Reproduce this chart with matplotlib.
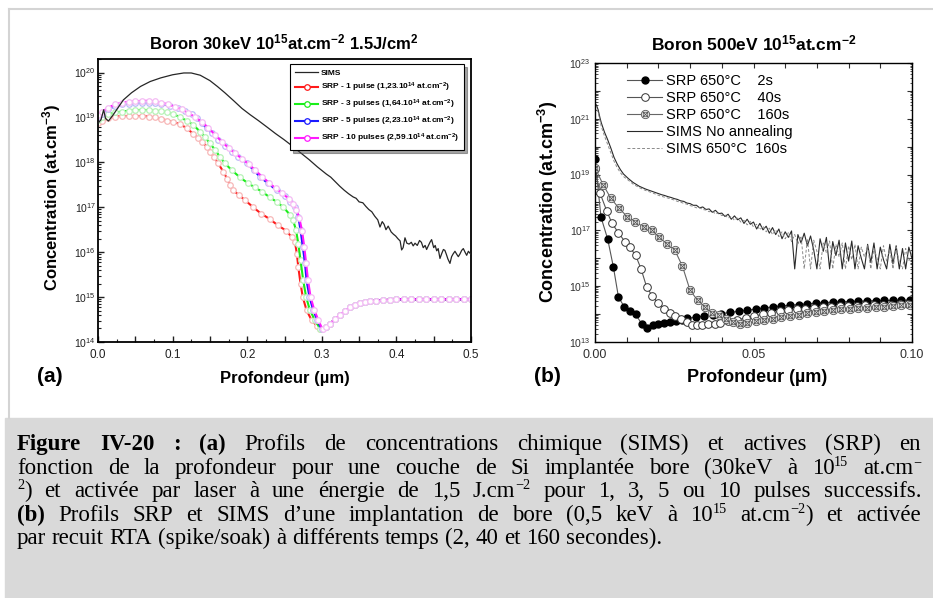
import re

import matplotlib.pyplot as plt
import numpy as np
from matplotlib.lines import Line2D
from matplotlib.patches import Rectangle
from matplotlib.path import Path
from matplotlib.ticker import (FuncFormatter, LogLocator, MultipleLocator,
                               NullFormatter)

plt.rcParams['font.family'] = ['Liberation Sans', 'DejaVu Sans']
plt.rcParams['mathtext.fontset'] = 'custom'
plt.rcParams['mathtext.rm'] = 'Liberation Sans'
plt.rcParams['mathtext.bf'] = 'Liberation Sans:bold'
plt.rcParams['mathtext.it'] = 'Liberation Sans:italic'

W, H = 933, 598

# ---------------------------------------------------------------- panel (a)
# depth in um, concentration as log10(at.cm-3)
sims_a_x = [0.000, 0.004, 0.0076, 0.010, 0.014, 0.020, 0.027, 0.034, 0.045,
            0.057, 0.070, 0.084, 0.100, 0.115, 0.125, 0.137, 0.150, 0.160,
            0.170, 0.182, 0.193, 0.204, 0.215, 0.227, 0.238, 0.249, 0.260,
            0.271, 0.283, 0.294, 0.300, 0.306, 0.312, 0.318, 0.324, 0.330,
            0.336, 0.342, 0.346, 0.350, 0.355, 0.359, 0.363, 0.367, 0.371,
            0.375, 0.378, 0.381, 0.3835, 0.386, 0.389, 0.393, 0.396, 0.399,
            0.402, 0.405, 0.407, 0.409, 0.4115, 0.414, 0.417, 0.420, 0.4225,
            0.425, 0.428, 0.431, 0.4335, 0.436, 0.4385, 0.4405, 0.443, 0.445,
            0.4472, 0.450, 0.452, 0.454, 0.456, 0.4584, 0.461, 0.463, 0.465,
            0.467, 0.469, 0.4718, 0.474, 0.476, 0.4785, 0.481, 0.483, 0.4852,
            0.4875, 0.4897, 0.492, 0.4942, 0.4965, 0.499, 0.500]
sims_a_logc = [18.87, 18.95, 19.17, 18.98, 18.92, 19.05, 19.22, 19.39, 19.55,
               19.69, 19.80, 19.88, 19.95, 19.99, 19.99, 19.94, 19.82, 19.69,
               19.55, 19.37, 19.20, 19.06, 18.93, 18.78, 18.64, 18.51, 18.37,
               18.22, 18.06, 17.90, 17.82, 17.74, 17.67, 17.57, 17.47, 17.38,
               17.30, 17.23, 17.20, 17.12, 17.10, 17.02, 16.95, 16.90, 16.80,
               16.72, 16.56, 16.68, 16.62, 16.50, 16.58, 16.45, 16.40, 16.36,
               16.30, 16.25, 16.05, 16.10, 16.32, 16.20, 16.18, 16.22, 16.14,
               16.20, 16.15, 16.26, 16.22, 16.10, 16.15, 16.06, 16.15, 16.22,
               16.28, 16.10, 16.15, 16.03, 16.08, 15.86, 15.98, 16.06, 16.04,
               15.95, 15.85, 15.75, 15.90, 15.96, 16.02, 15.95, 15.90, 15.96,
               16.04, 16.08, 16.00, 15.93, 16.02, 15.97, 15.95]

srp1_x = [0.000, 0.005, 0.014, 0.023, 0.032, 0.041, 0.050, 0.059, 0.068, 0.076,
          0.085, 0.093, 0.101, 0.110, 0.119, 0.128, 0.134, 0.139, 0.146, 0.150,
          0.155, 0.161, 0.168, 0.173, 0.177, 0.181, 0.189, 0.197, 0.208,
          0.2185, 0.230, 0.241, 0.252, 0.2595, 0.264, 0.2665, 0.2685, 0.2715,
          0.2745, 0.2795, 0.2865, 0.2935, 0.298]
srp1_logc = [18.88, 18.93, 18.98, 19.02, 19.03, 19.03, 19.03, 19.03, 19.02,
             19.00, 18.97, 18.93, 18.90, 18.85, 18.76, 18.63, 18.54, 18.46,
             18.35, 18.24, 18.13, 17.98, 17.79, 17.64, 17.49, 17.38, 17.27,
             17.16, 17.00, 16.86, 16.74, 16.60, 16.48, 16.34, 16.23, 15.97,
             15.67, 15.30, 15.00, 14.71, 14.48, 14.36, 14.30]

srp3_x = [0.000, 0.005, 0.014, 0.023, 0.032, 0.041, 0.050, 0.059, 0.068, 0.076,
          0.085, 0.093, 0.101, 0.110, 0.119, 0.128, 0.137, 0.143, 0.150, 0.157,
          0.163, 0.170, 0.179, 0.190, 0.2015, 0.2105, 0.2195, 0.2305, 0.2395,
          0.2485, 0.2575, 0.2615, 0.2655, 0.2685, 0.2715, 0.2750, 0.2790,
          0.2840, 0.2910, 0.2975]
srp3_logc = [18.95, 19.02, 19.07, 19.11, 19.13, 19.15, 19.16, 19.17, 19.16,
             19.15, 19.14, 19.11, 19.08, 19.00, 18.93, 18.83, 18.68, 18.57,
             18.42, 18.28, 18.13, 17.98, 17.83, 17.67, 17.53, 17.44, 17.35,
             17.22, 17.12, 17.00, 16.83, 16.71, 16.49, 16.19, 15.82, 15.38,
             15.00, 14.71, 14.48, 14.30]

srp5_x = [0.000, 0.005, 0.014, 0.023, 0.032, 0.041, 0.050, 0.059, 0.068, 0.076,
          0.085, 0.0965, 0.1075, 0.1165, 0.1255, 0.1325, 0.139, 0.1455, 0.1525,
          0.1615, 0.170, 0.179, 0.188, 0.1995, 0.2085, 0.217, 0.228, 0.2395,
          0.2505, 0.2575, 0.264, 0.2685, 0.2715, 0.2745, 0.2775, 0.2795,
          0.2835, 0.2885, 0.294, 0.300]
srp5_logc = [19.00, 19.08, 19.18, 19.26, 19.29, 19.31, 19.32, 19.33, 19.33,
             19.33, 19.30, 19.26, 19.21, 19.15, 19.08, 18.98, 18.87, 18.76,
             18.65, 18.50, 18.36, 18.24, 18.13, 17.98, 17.83, 17.68, 17.53,
             17.38, 17.25, 17.12, 17.00, 16.79, 16.49, 16.12, 15.75, 15.38,
             15.00, 14.71, 14.48, 14.28]

srp10_x = [0.000, 0.005, 0.014, 0.023, 0.032, 0.041, 0.050, 0.059, 0.068,
           0.076, 0.085, 0.094, 0.103, 0.112, 0.121, 0.130, 0.139, 0.148,
           0.157, 0.166, 0.175, 0.184, 0.193, 0.202, 0.211, 0.220, 0.229,
           0.238, 0.247, 0.256, 0.262, 0.266, 0.270, 0.2735, 0.2765, 0.279,
           0.2815, 0.285, 0.290, 0.2955, 0.301]
srp10_logc = [19.05, 19.12, 19.22, 19.29, 19.33, 19.35, 19.36, 19.37, 19.37,
              19.36, 19.33, 19.29, 19.24, 19.18, 19.10, 19.01, 18.90, 18.77,
              18.61, 18.46, 18.32, 18.20, 18.08, 17.96, 17.82, 17.68, 17.55,
              17.42, 17.31, 17.19, 17.08, 16.95, 16.75, 16.48, 16.12, 15.75,
              15.38, 15.00, 14.71, 14.48, 14.28]

# all four SRP profiles share the same tail beyond the junction
tail_x = [0.305, 0.311, 0.318, 0.324, 0.331, 0.338, 0.345, 0.351, 0.358, 0.365,
          0.373, 0.382, 0.391, 0.400, 0.410, 0.420, 0.430, 0.440, 0.450, 0.460,
          0.470, 0.480, 0.490, 0.500]
tail_logc = [14.33, 14.41, 14.51, 14.60, 14.69, 14.77, 14.82, 14.86, 14.89,
             14.91, 14.92, 14.93, 14.94, 14.95, 14.95, 14.95, 14.95, 14.95,
             14.95, 14.95, 14.95, 14.95, 14.95, 14.95]

srp_labels = ['SRP - 1 pulse (1,23.10$^{\\mathbf{14}}$ at.cm$^{\\mathbf{-2}}$)',
              'SRP - 3 pulses (1,64.10$^{\\mathbf{14}}$ at.cm$^{\\mathbf{-2}}$)',
              'SRP - 5 pulses (2,23.10$^{\\mathbf{14}}$ at.cm$^{\\mathbf{-2}}$)',
              'SRP - 10 pulses (2,59.10$^{\\mathbf{14}}$ at.cm$^{\\mathbf{-2}}$)']
srp_colors = ['#ff1a1a', '#1aee1a', '#1a1aff', '#ff1aff']
srp_edges = ['#f7b8b8', '#b8f2b8', '#bcbcf6', '#f4bcf4']

# ---------------------------------------------------------------- panel (b)
srp2s_x = [0.0, 0.0019, 0.0040, 0.0058, 0.0074, 0.0093, 0.0110, 0.0128, 0.0147,
           0.0165, 0.0182, 0.0200, 0.0218, 0.0237, 0.0255, 0.0273, 0.0291,
           0.0318, 0.0345, 0.0372, 0.0399, 0.0426, 0.0453, 0.0480, 0.0507,
           0.0534, 0.0561, 0.0588, 0.0615, 0.0642, 0.0669, 0.0696, 0.0723,
           0.0750, 0.0777, 0.0804, 0.0831, 0.0858, 0.0885, 0.0912, 0.0939,
           0.0966, 0.0993]
srp2s_logc = [19.55, 17.47, 16.69, 15.69, 14.61, 14.25, 14.11, 13.99, 13.66,
              13.51, 13.60, 13.66, 13.68, 13.72, 13.75, 13.78, 13.85, 13.89,
              13.93, 13.97, 14.02, 14.06, 14.10, 14.14, 14.18, 14.22, 14.26,
              14.29, 14.32, 14.34, 14.37, 14.39, 14.41, 14.43, 14.44, 14.45,
              14.46, 14.47, 14.48, 14.49, 14.49, 14.50, 14.50]

srp40s_x = [0.0, 0.0016, 0.0037, 0.0053, 0.0074, 0.0095, 0.0110, 0.0128, 0.0145,
            0.0163, 0.0181, 0.0200, 0.0219, 0.0237, 0.0252, 0.0271, 0.0289,
            0.0305, 0.0321, 0.0339, 0.0358, 0.0377, 0.0394, 0.0421, 0.0448,
            0.0475, 0.0502, 0.0529, 0.0556, 0.0583, 0.0610, 0.0637, 0.0664,
            0.0691, 0.0718, 0.0745, 0.0772, 0.0799, 0.0826, 0.0853, 0.0880,
            0.0907, 0.0934, 0.0961, 0.0988]
srp40s_logc = [19.20, 18.33, 17.70, 17.27, 16.91, 16.59, 16.39, 16.11, 15.63,
               14.97, 14.64, 14.38, 14.20, 14.04, 13.92, 13.84, 13.72, 13.62,
               13.60, 13.62, 13.63, 13.66, 13.68, 13.74, 13.80, 13.86, 13.93,
               13.99, 14.05, 14.10, 14.14, 14.18, 14.20, 14.22, 14.24, 14.26,
               14.28, 14.29, 14.30, 14.31, 14.32, 14.33, 14.34, 14.35, 14.35]

srp160s_x = [0.0, 0.0026, 0.0050, 0.0076, 0.0102, 0.0126, 0.0153, 0.0179,
             0.0202, 0.0226, 0.0252, 0.0276, 0.0300, 0.0324, 0.0347, 0.0370,
             0.0392, 0.0414, 0.0436, 0.0458, 0.0480, 0.0507, 0.0534, 0.0561,
             0.0588, 0.0615, 0.0642, 0.0669, 0.0696, 0.0723, 0.0750, 0.0777,
             0.0804, 0.0831, 0.0858, 0.0885, 0.0912, 0.0939, 0.0966, 0.0993]
srp160s_logc = [19.25, 18.63, 18.15, 17.79, 17.49, 17.31, 17.13, 17.01, 16.75,
                16.53, 16.29, 15.71, 14.85, 14.49, 14.25, 14.05, 13.96, 13.84,
                13.72, 13.63, 13.68, 13.74, 13.78, 13.83, 13.88, 13.94, 13.98,
                14.03, 14.07, 14.11, 14.14, 14.17, 14.19, 14.21, 14.23, 14.25,
                14.27, 14.29, 14.31, 14.32]

# SIMS: smooth head, then one reading per nm from 0.021 to 0.100 um
sims_head_x = [0.0, 0.0005, 0.001, 0.0016, 0.002, 0.003, 0.004, 0.005, 0.006,
               0.007, 0.008, 0.009, 0.0105, 0.012, 0.014, 0.016, 0.018, 0.020]
sims_noann_head = [21.56, 21.48, 21.32, 21.02, 20.85, 20.52, 20.25, 19.95,
                   19.62, 19.38, 19.18, 19.02, 18.86, 18.72, 18.58, 18.48,
                   18.40, 18.32]
sims_160_head = [21.50, 21.40, 21.22, 20.92, 20.72, 20.38, 20.08, 19.78, 19.48,
                 19.25, 19.07, 18.93, 18.80, 18.66, 18.53, 18.43, 18.35, 18.26]
sims_noann_body = [
    18.28, 18.25, 18.21, 18.18, 18.14, 18.11, 18.06, 18.04, 17.98, 17.96,
    17.90, 17.90, 17.81, 17.84, 17.75, 17.77, 17.65, 17.72, 17.60, 17.62,
    17.50, 17.58, 17.40, 17.52, 17.38, 17.45, 17.25, 17.40, 17.22, 17.30,
    17.05, 17.25, 17.02, 17.15, 16.90, 17.10, 16.85, 17.05, 16.70, 16.95,
    16.75, 16.98, 15.62, 16.85, 16.55, 16.90, 16.45, 16.80, 16.30, 15.62,
    16.70, 16.25, 16.75, 15.62, 16.60, 16.10, 16.65, 15.62, 16.55, 15.90,
    16.62, 15.62, 16.45, 16.00, 15.62, 16.50, 15.85, 16.55, 15.62, 16.40,
    15.95, 15.62, 16.50, 15.80, 16.45, 15.62, 16.35, 15.62, 16.40, 16.00]
sims_160_body = [
    18.22, 18.19, 18.16, 18.12, 18.09, 18.04, 18.01, 17.97, 17.94, 17.89,
    17.86, 17.81, 17.81, 17.75, 17.73, 17.67, 17.69, 17.59, 17.63, 17.53,
    17.55, 17.44, 17.50, 17.36, 17.44, 17.30, 17.36, 17.20, 17.32, 17.12,
    17.22, 17.02, 17.16, 16.95, 17.08, 16.85, 17.02, 16.78, 16.95, 16.70,
    16.92, 16.60, 16.85, 16.52, 16.80, 15.62, 16.70, 15.62, 16.65, 16.25,
    15.62, 16.55, 16.20, 16.62, 15.62, 16.50, 16.05, 16.55, 15.62, 16.45,
    15.95, 16.50, 15.62, 16.40, 16.05, 16.45, 15.62, 16.35, 16.00, 15.62,
    16.45, 15.90, 16.30, 15.62, 16.40, 15.85, 15.62, 16.35, 15.90, 16.20]
sims_body_x = np.linspace(0.021, 0.100, len(sims_noann_body))

# ---------------------------------------------------------------- caption
# ^{...} marks a superscript
cap_lines = [
    [("Figure IV-20 : (a)", True),
     ("Profils de concentrations chimique (SIMS) et actives (SRP) en", False)],
    [("fonction de la profondeur pour une couche de Si implantée bore "
      "(30keV à 10^{15} at.cm^{−}", False)],
    [("^{2}) et activée par laser à une énergie de 1,5 J.cm^{−2} pour "
      "1, 3, 5 ou 10 pulses successifs.", False)],
    [("(b)", True),
     ("Profils SRP et SIMS d’une implantation de bore (0,5 keV à "
      "10^{15} at.cm^{−2}) et activée", False)],
    [("par recuit RTA (spike/soak) à différents temps (2, 40 et 160 "
      "secondes).", False)],
]
cap_base = [450, 474, 497, 521, 544]
cap_fs = 16.5
cap_x0, cap_x1 = 17, 921


def px(x, y):
    """Pixel position (from top-left) to figure fraction."""
    return x / W, 1 - y / H


fig = plt.figure(figsize=(W / 100, H / 100), dpi=100)

# light frame and grey caption band
fig.add_artist(Line2D([9 / W, 1], [1 - 9 / H, 1 - 9 / H], color='#d4d4d4',
                      lw=1.5, transform=fig.transFigure))
fig.add_artist(Line2D([9 / W, 9 / W], [1 - 9 / H, 1 - 418 / H],
                      color='#d4d4d4', lw=1.5, transform=fig.transFigure))
fig.patches.append(Rectangle((5 / W, 0), 1, 180 / H, color='#d9d9d9',
                             transform=fig.transFigure, zorder=-1))

# ---- panel (a)
ax1 = fig.add_axes([98 / W, 1 - 342 / H, 373 / W, 283 / H])
ax1.plot(sims_a_x, 10 ** np.array(sims_a_logc), color='#262626', lw=0.9,
         label='SIMS', zorder=3)
for x, lc, col, ec, lab in zip([srp1_x, srp3_x, srp5_x, srp10_x],
                               [srp1_logc, srp3_logc, srp5_logc, srp10_logc],
                               srp_colors, srp_edges, srp_labels):
    xx = np.concatenate([x, tail_x])
    yy = 10 ** np.concatenate([lc, tail_logc])
    ax1.plot(xx, yy, '-', color=col, lw=1.5, marker='o', ms=4.0, mfc='white',
             mec=ec, mew=0.9, label=lab)
ax1.set_yscale('log')
ax1.set_xlim(0, 0.5)
ax1.set_ylim(1e14, 2e20)
ax1.xaxis.set_major_locator(MultipleLocator(0.05))
ax1.xaxis.set_minor_locator(MultipleLocator(0.025))
ax1.xaxis.set_major_formatter(FuncFormatter(
    lambda v, p: f'{v:.1f}' if abs(v * 10 - round(v * 10)) < 1e-6 else ''))
ax1.yaxis.set_major_locator(LogLocator(base=10, numticks=12))
ax1.yaxis.set_minor_locator(LogLocator(base=10, subs=np.arange(2, 10),
                                       numticks=12))
ax1.yaxis.set_minor_formatter(NullFormatter())
ax1.tick_params(which='both', direction='in', top=False, right=False,
                colors='#202020')
ax1.tick_params(axis='x', which='major', length=4, width=1, labelsize=8.5,
                pad=5)
ax1.tick_params(axis='y', which='major', length=4, width=1, labelsize=7.5,
                pad=1.5)
ax1.tick_params(which='minor', length=2.2, width=0.8)
for s in ax1.spines.values():
    s.set_linewidth(1.3)
leg1 = ax1.legend(loc='upper right', bbox_to_anchor=(0.981, 0.982),
                  borderaxespad=0, fancybox=False, shadow=True,
                  edgecolor='black', framealpha=1, handlelength=2.8,
                  handletextpad=0.3, labelspacing=0.45, borderpad=0.6,
                  prop=dict(family='Liberation Sans', weight='bold', size=6))
leg1.get_frame().set_linewidth(0.8)
for h, col in zip(leg1.get_lines()[1:], srp_colors):
    h.set_markeredgecolor(col)

fig.text(*px(284, 42), 'Boron 30keV 10$^{\\mathbf{15}}$at.cm$^{\\mathbf{-2}}$ '
         '1.5J/cm$^{\\mathbf{2}}$', ha='center', va='center', fontsize=12,
         weight='bold')
fig.text(*px(285, 378), 'Profondeur (µm)', ha='center', va='center',
         fontsize=12, weight='bold')
fig.text(*px(52, 198), 'Concentration (at.cm$^{\\mathbf{-3}}$)', ha='center',
         va='center', rotation=90, fontsize=12, weight='bold')
fig.text(*px(50, 377), '(a)', ha='center', va='center', fontsize=15,
         weight='bold')

# ---- panel (b)
crossed = Path.make_compound_path(
    Path.unit_circle(),
    Path([(-0.55, -0.55), (0.55, -0.55), (0.55, 0.55), (-0.55, 0.55),
          (-0.55, -0.55)],
         [Path.MOVETO, Path.LINETO, Path.LINETO, Path.LINETO, Path.CLOSEPOLY]),
    Path([(-0.55, -0.55), (0.55, 0.55), (-0.55, 0.55), (0.55, -0.55)],
         [Path.MOVETO, Path.LINETO, Path.MOVETO, Path.LINETO]))

ax2 = fig.add_axes([595 / W, 1 - 342 / H, 317 / W, 279 / H])
ax2.plot(srp2s_x, 10 ** np.array(srp2s_logc), '-', color='#555555', lw=0.8,
         marker='o', ms=5, mfc='black', mec='black', label='SRP 650°C    2s')
ax2.plot(srp40s_x, 10 ** np.array(srp40s_logc), '-', color='#555555', lw=0.8,
         marker='o', ms=5.5, mfc='white', mec='#333333', mew=0.7,
         label='SRP 650°C    40s')
ax2.plot(srp160s_x, 10 ** np.array(srp160s_logc), '-', color='#666666',
         lw=0.8, marker=crossed, ms=6, mfc='white', mec='#555555', mew=0.6,
         label='SRP 650°C    160s')
ax2.plot(np.concatenate([sims_head_x, sims_body_x]),
         10 ** np.concatenate([sims_noann_head, sims_noann_body]),
         color='#2a2a2a', lw=0.8, label='SIMS No annealing')
ax2.plot(np.concatenate([sims_head_x, sims_body_x]),
         10 ** np.concatenate([sims_160_head, sims_160_body]),
         color='#8a8a8a', lw=0.7, ls=(0, (3, 2)), label='SIMS 650°C  160s')
ax2.set_yscale('log')
ax2.set_xlim(0, 0.1)
ax2.set_ylim(1e13, 1e23)
ax2.xaxis.set_major_locator(MultipleLocator(0.01))
ax2.xaxis.set_major_formatter(FuncFormatter(
    lambda v, p: f'{v:.2f}' if abs(v * 20 - round(v * 20)) < 1e-6 else ''))
ax2.yaxis.set_major_locator(LogLocator(base=10, numticks=12))
ax2.yaxis.set_minor_locator(LogLocator(base=10, subs=np.arange(2, 10),
                                       numticks=12))
ax2.yaxis.set_minor_formatter(NullFormatter())
ax2.yaxis.set_major_formatter(FuncFormatter(
    lambda v, p: f'$\\mathdefault{{10^{{{int(round(np.log10(v)))}}}}}$'
    if int(round(np.log10(v))) % 2 == 1 else ''))
ax2.tick_params(which='both', direction='in', top=True, right=True,
                colors='#303030')
ax2.tick_params(axis='x', which='major', length=3.5, width=0.8, labelsize=9,
                pad=5)
ax2.tick_params(axis='y', which='major', length=3.5, width=0.8, labelsize=7.5,
                pad=3)
ax2.tick_params(which='minor', length=1.8, width=0.6)
for s in ax2.spines.values():
    s.set_linewidth(1.0)
ax2.legend(loc='upper left', bbox_to_anchor=(0.101, 0.96), borderaxespad=0,
           borderpad=0, frameon=False, handlelength=2.4, handletextpad=0.3,
           labelspacing=0.2, prop=dict(family='Liberation Sans', size=10.5))

fig.text(*px(754, 43), 'Boron 500eV 10$^{\\mathbf{15}}$at.cm$^{\\mathbf{-2}}$',
         ha='center', va='center', fontsize=12.5, weight='bold')
fig.text(*px(757, 378), 'Profondeur (µm)', ha='center', va='center',
         fontsize=13, weight='bold')
fig.text(*px(548, 202), 'Concentration (at.cm$^{\\mathbf{-3}}$)', ha='center',
         va='center', rotation=90, fontsize=13, weight='bold')
fig.text(*px(547, 376), '(b)', ha='center', va='center', fontsize=15,
         weight='bold')

# ---- caption, justified word by word, superscripts as small raised text
renderer = fig.canvas.get_renderer()
rise = 0.36 * cap_fs * 100 / 72
for i, (parts, yb) in enumerate(zip(cap_lines, cap_base)):
    words = []
    for s, bold in parts:
        for wd in s.split():
            pieces, off = [], 0.0
            for k, p in enumerate(re.split(r'\^\{([^}]*)\}', wd)):
                if not p:
                    continue
                sup = k % 2 == 1
                ybase = yb - rise if sup else yb
                t = fig.text(0, 1 - ybase / H, p,
                             fontsize=cap_fs * (0.62 if sup else 1),
                             family='Liberation Serif',
                             weight='bold' if bold else 'normal',
                             va='baseline', color='black')
                pieces.append((t, off))
                off += t.get_window_extent(renderer).width
            words.append((pieces, off))
    total = sum(w for _, w in words)
    if i < len(cap_lines) - 1:
        gap = (cap_x1 - cap_x0 - total) / (len(words) - 1)
    else:
        gap = cap_fs * 100 / 72 * 0.25
    x = cap_x0
    for pieces, w in words:
        for t, off in pieces:
            t.set_x((x + off) / W)
        x += w + gap

fig.savefig('out.png', dpi=100)
